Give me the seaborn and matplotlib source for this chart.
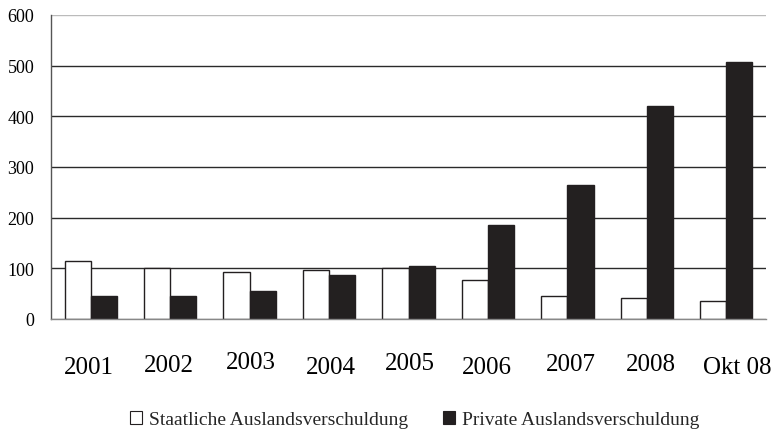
import numpy as np
import pandas as pd
import matplotlib
matplotlib.use("Agg")
import matplotlib.pyplot as plt
import matplotlib.transforms as mtransforms
from matplotlib.patches import Patch
import seaborn as sns

# data
years = ["2001", "2002", "2003", "2004", "2005", "2006", "2007", "2008", "Okt 08"]
staatlich = [114, 100, 93, 97, 101, 76, 45, 41, 35]
privat = [45, 45, 55, 87, 104, 185, 264, 420, 507]
series_names = ["Staatliche Auslandsverschuldung", "Private Auslandsverschuldung"]
yticks = [0, 100, 200, 300, 400, 500, 600]

# the scanned x labels sit a little unevenly (dx, dy in pixels)
label_dx = [-2, -1, 1, 2, 1, -1, 3, 4, 11]
label_dy = [0, 2, 5, 0, 4, 0, 3, 3, 0]

df = pd.DataFrame({
    "Jahr": years * 2,
    "Wert": staatlich + privat,
    "Serie": [series_names[0]] * len(years) + [series_names[1]] * len(years),
})

sns.set_theme(style="white")
plt.rcParams["font.family"] = ["Liberation Serif", "DejaVu Serif"]

dark = "#231f20"
fig = plt.figure(figsize=(7.77, 4.31), dpi=100)
ax = fig.add_axes([51 / 777, 1 - 320 / 431, 715 / 777, 304 / 431])

sns.barplot(data=df, x="Jahr", y="Wert", hue="Serie", order=years,
            hue_order=series_names, palette=["white", dark], width=0.66,
            edgecolor=dark, linewidth=1, legend=False, ax=ax)

ax.set_ylim(0, 600)
ax.set_xlim(-0.5, len(years) - 0.5)
ax.set_yticks(yticks)
ax.set_ylabel("")
ax.set_xlabel("")
ax.set_xticks(range(len(years)))
ax.set_xticklabels([])
ax.tick_params(axis="x", length=0)
ax.tick_params(axis="y", length=3, width=1, color="#555555", pad=9,
               labelsize=13, labelcolor="black")

ax.yaxis.grid(True, color="#2a2a2a", linewidth=1)
ax.set_axisbelow(True)
ax.get_ygridlines()[-1].set_color("#bbbbbb")
ax.get_ygridlines()[0].set_color("#888888")
for side in ["top", "right"]:
    ax.spines[side].set_visible(False)
ax.spines["left"].set_color("#555555")
ax.spines["bottom"].set_color("#888888")
ax.spines["left"].set_linewidth(1)
ax.spines["bottom"].set_linewidth(1)

# x labels as text under each category
base = mtransforms.blended_transform_factory(ax.transData, ax.transAxes)
for i, lab in enumerate(years):
    off = mtransforms.ScaledTranslation(label_dx[i] / 100, label_dy[i] / 100,
                                        fig.dpi_scale_trans)
    ax.text(i, -48 / 304, lab, transform=base + off, ha="center", va="center",
            fontsize=18, color="black")

handles = [Patch(facecolor="white", edgecolor=dark, linewidth=0.8),
           Patch(facecolor=dark, edgecolor=dark, linewidth=0.8)]
fig.legend(handles, series_names, loc="center", bbox_to_anchor=(0.5335, 0.024),
           ncol=2, frameon=False, fontsize=14, handlelength=0.62,
           handleheight=0.62, handletextpad=0.36, columnspacing=1.8,
           borderpad=0)

fig.savefig("out.png", dpi=100)
